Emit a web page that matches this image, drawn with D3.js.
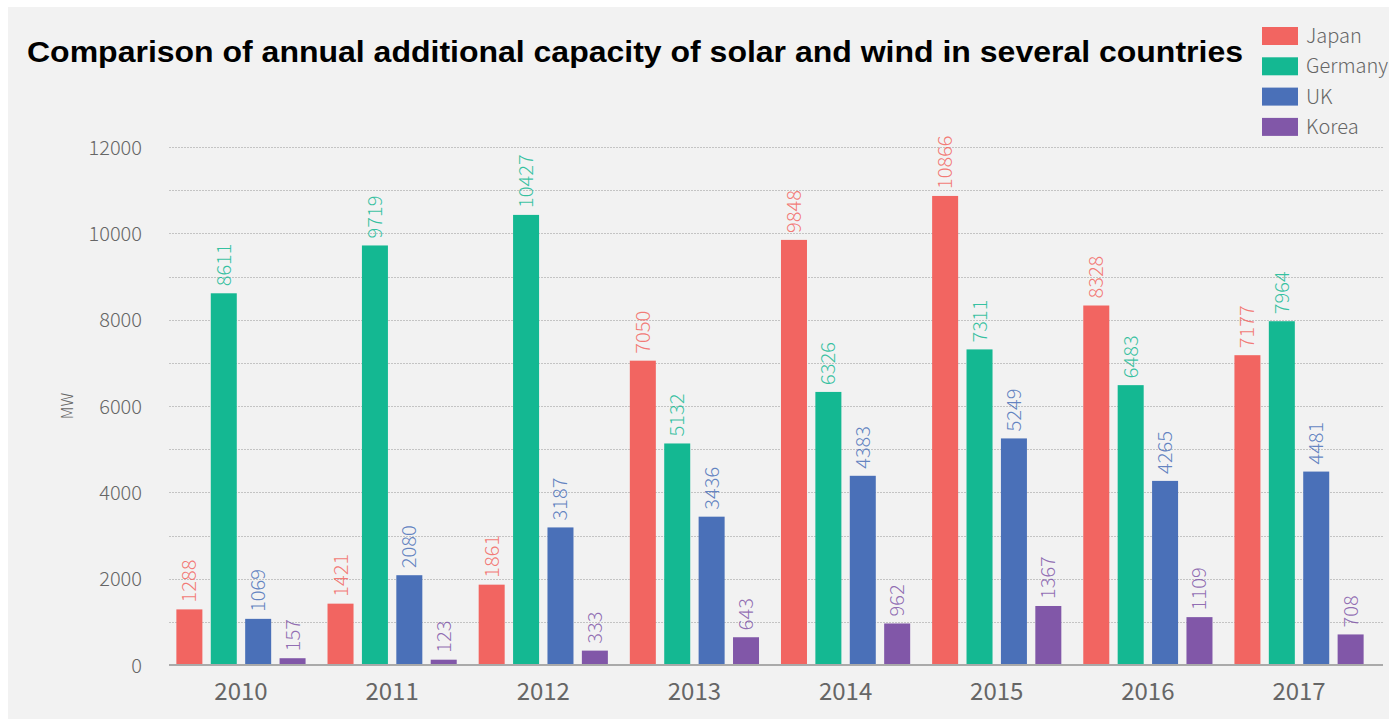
<!DOCTYPE html>
<html>
<head>
<meta charset="utf-8">
<script src="https://cdn.jsdelivr.net/npm/d3@7"></script>
<style>
  html, body { margin: 0; padding: 0; background: #ffffff; }
  svg { display: block; }
</style>
</head>
<body>
<svg id="chart" width="1389" height="719"></svg>
<script>
// Annual additional capacity (MW) of solar and wind
const years = ["2010", "2011", "2012", "2013", "2014", "2015", "2016", "2017"];
const seriesNames = ["Japan", "Germany", "UK", "Korea"];
const japan   = [1288, 1421, 1861, 7050, 9848, 10866, 8328, 7177];
const germany = [8611, 9719, 10427, 5132, 6326, 7311, 6483, 7964];
const uk      = [1069, 2080, 3187, 3436, 4383, 5249, 4265, 4481];
const korea   = [157, 123, 333, 643, 962, 1367, 1109, 708];
const yTicks  = [0, 2000, 4000, 6000, 8000, 10000, 12000];
const colors  = ["#f26561", "#14b892", "#4a70b8", "#8157a8"];

const seriesValues = [japan, germany, uk, korea];

const svg = d3.select("#chart");
const W = 1389, H = 719;
const font = "'Noto Sans CJK SC', 'Noto Sans', sans-serif";

// panel background
svg.append("rect").attr("x", 8).attr("y", 7).attr("width", W - 8).attr("height", H - 7).attr("fill", "#f2f2f2");

const y = d3.scaleLinear().domain([0, 12000]).range([665, 147]);
const x0 = d3.scaleBand().domain(years).range([165.4, 1374.6]);
const x1 = d3.scaleBand().domain(seriesNames).range([-64.6, 64.6]).paddingInner(0.244);

const plotLeft = 169, plotRight = 1383;

// gridlines every 1000
svg.append("g").selectAll("line")
  .data(d3.range(1000, 12001, 1000))
  .join("line")
  .attr("x1", plotLeft).attr("x2", plotRight)
  .attr("y1", d => Math.round(y(d)) + 0.5).attr("y2", d => Math.round(y(d)) + 0.5)
  .attr("stroke", "#c4c4c4").attr("stroke-width", 1).attr("stroke-dasharray", "2,1");

// y axis labels
const yAxis = d3.axisLeft(y).tickValues(yTicks).tickFormat(d3.format("d")).tickSize(0).tickPadding(0);
const gy = svg.append("g").attr("transform", "translate(142,0)").call(yAxis);
gy.select(".domain").remove();
gy.selectAll("text").attr("font-family", font).attr("font-weight", 300).attr("font-size", 20).attr("fill", "#666").attr("dy", "0.35em");

// y axis title
svg.append("text").attr("transform", "translate(73,406) rotate(-90)")
  .attr("text-anchor", "middle").attr("font-family", font).attr("font-weight", 300).attr("font-size", 16).attr("fill", "#666").text("MW");

// bars
const groups = svg.append("g").selectAll("g")
  .data(years)
  .join("g")
  .attr("transform", d => `translate(${x0(d) + x0.bandwidth() / 2},0)`);

groups.selectAll("rect")
  .data((d, i) => seriesNames.map((s, k) => ({ s, k, v: seriesValues[k][i] })))
  .join("rect")
  .attr("x", d => x1(d.s))
  .attr("width", x1.bandwidth())
  .attr("y", d => y(d.v))
  .attr("height", d => y(0) - y(d.v))
  .attr("fill", d => colors[d.k]);

// value labels
groups.selectAll("text.val")
  .data((d, i) => seriesNames.map((s, k) => ({ s, k, v: seriesValues[k][i] })))
  .join("text")
  .attr("class", "val")
  .attr("transform", d => `translate(${x1(d.s) + x1.bandwidth() / 2},${y(d.v) - 7}) rotate(-90)`)
  .attr("dy", "0.35em")
  .attr("text-anchor", "start")
  .attr("font-family", font).attr("font-weight", 300).attr("font-size", 20)
  .attr("fill", d => colors[d.k]).attr("fill-opacity", 0.85)
  .text(d => d.v);

// x axis line
svg.append("line").attr("x1", plotLeft).attr("x2", plotRight).attr("y1", 665).attr("y2", 665)
  .attr("stroke", "#aaaaaa").attr("stroke-width", 2);

// x axis labels
const xAxis = d3.axisBottom(x0).tickSize(0).tickPadding(0);
const gx = svg.append("g").attr("transform", "translate(0,692)").call(xAxis);
gx.select(".domain").remove();
gx.selectAll("text").attr("font-family", font).attr("font-size", 24).attr("fill", "#666").attr("dy", "0.35em");

// title
svg.append("text").attr("x", 27).attr("y", 62)
  .attr("font-family", "'Liberation Sans', Arial, sans-serif").attr("font-weight", "bold").attr("font-size", 29)
  .attr("textLength", 1216).attr("lengthAdjust", "spacingAndGlyphs")
  .attr("fill", "#000").text("Comparison of annual additional capacity of solar and wind in several countries");

// legend
const legend = svg.append("g").selectAll("g")
  .data(seriesNames)
  .join("g")
  .attr("transform", (d, i) => `translate(1262,${27 + i * 30.3})`);
legend.append("rect").attr("width", 36).attr("height", 18).attr("fill", (d, i) => colors[i]);
legend.append("text").attr("x", 44).attr("y", 9).attr("dy", "0.35em")
  .attr("font-family", font).attr("font-weight", 300).attr("font-size", 20).attr("fill", "#666").text(d => d);
</script>
</body>
</html>
